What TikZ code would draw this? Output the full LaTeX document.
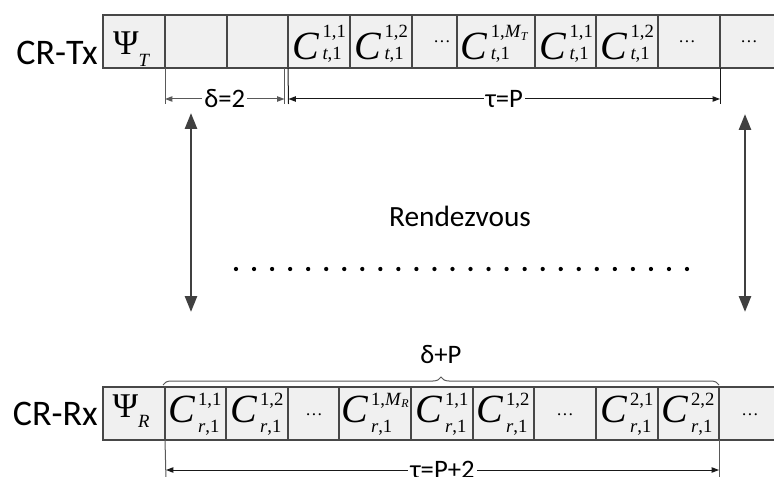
\documentclass[tikz,border=0pt]{standalone}
\usepackage{fontspec}
\setmainfont{Carlito}
\newfontfamily\tms{Liberation Serif}
\usetikzlibrary{arrows.meta,decorations.pathreplacing}
\newbox\supbx
\newbox\subbx
\newdimen\scrw
\newcommand{\bigC}{{\tms\fontsize{30}{30}\selectfont\itshape C}}
\newcommand{\scr}[1]{{\tms\fontsize{14}{14}\selectfont #1}}
% #1 sup, #2 sub, #3 sup raise, #4 sub raise, #5 gap
\newcommand{\Cgrp}[5]{\bigC\kern#5%
  \setbox\supbx=\hbox{\scr{#1}}\setbox\subbx=\hbox{\scr{#2}}%
  \ifdim\wd\supbx>\wd\subbx \scrw=\wd\supbx \else \scrw=\wd\subbx \fi
  \rlap{\raisebox{#3}{\copy\supbx}}\rlap{\raisebox{#4}{\copy\subbx}}\hspace*{\scrw}}
\newcommand{\CgT}[2]{\Cgrp{#1}{\itshape #2\upshape ,1}{16.5pt}{0pt}{2.8pt}}
\newcommand{\CgB}[2]{\Cgrp{#1}{\itshape #2\upshape ,1}{12.75pt}{-7.5pt}{2.2pt}}
\newcommand{\MT}[1]{1,\itshape M\kern0.5pt\raisebox{-2pt}{\fontsize{9}{9}\selectfont #1}}
\newcommand{\Psig}[2]{{\tms\fontsize{26}{26}\selectfont Ψ}\raisebox{#2}{\tms\fontsize{14}{14}\selectfont\itshape #1}}
\newcommand{\ellip}{{\tms\fontsize{13}{13}\selectfont …}}
\begin{document}
\begin{tikzpicture}[x=0.75pt,y=-0.75pt,
  cellst/.style={draw=black!72, fill=black!6, line width=0.8pt, inner sep=0pt, outer sep=0pt},
  txt/.style={inner sep=0pt, anchor=base},
  lbl/.style={fill=white, inner sep=1.5pt, font=\fontsize{20}{20}\selectfont},
  extg/.style={draw=black!65, line width=0.75pt},
  extk/.style={draw=black!90, line width=0.75pt},
  dimg/.style={draw=black!65, line width=0.75pt, {Triangle[width=4pt,length=5.5pt]}-{Triangle[width=4pt,length=5.5pt]}},
  dimk/.style={draw=black!90, line width=0.75pt, {Triangle[width=4pt,length=5.5pt]}-{Triangle[width=4pt,length=5.5pt]}},
  varr/.style={draw=black!75, line width=2pt, {Triangle[width=9pt,length=12pt]}-{Triangle[width=9pt,length=12pt]}},
  bracest/.style={draw=black!65, line width=0.75pt, decorate, decoration={brace, amplitude=6pt}},
  rowlbl/.style={inner sep=0pt, anchor=base east, font=\fontsize{27}{27}\selectfont},
]
\useasboundingbox (0,0) rectangle (774,477);
\clip (0,0) rectangle (774,477);
\newcommand{\cellbox}[5]{\node[cellst, minimum width={(#3-#2)*0.75pt}, minimum height={(#5-#4)*0.75pt}] (#1) at ({(#2+#3)/2},{(#4+#5)/2}) {};}
% top row
\cellbox{t1}{103}{165}{15}{68}
\cellbox{t2}{165}{227}{15}{68}
\cellbox{t3}{227}{288}{15}{68}
\cellbox{t4}{288}{350}{15}{68}
\cellbox{t5}{350}{412}{15}{68}
\cellbox{t6}{412}{457}{15}{68}
\cellbox{t7}{457}{535}{15}{68}
\cellbox{t8}{535}{596}{15}{68}
\cellbox{t9}{596}{658}{15}{68}
\cellbox{t10}{658}{720}{15}{68}
\cellbox{t11}{720}{778}{15}{68}
% bottom row
\cellbox{b1}{103}{165}{387}{440}
\cellbox{b2}{165}{226}{387}{440}
\cellbox{b3}{226}{288}{387}{440}
\cellbox{b4}{288}{339}{387}{440}
\cellbox{b5}{339}{411}{387}{440}
\cellbox{b6}{411}{473}{387}{440}
\cellbox{b7}{473}{534}{387}{440}
\cellbox{b8}{534}{596}{387}{440}
\cellbox{b9}{596}{658}{387}{440}
\cellbox{b10}{658}{719}{387}{440}
\cellbox{b11}{719}{778}{387}{440}
% row labels
\node[rowlbl] (tx) at (98,65) {CR-Tx};
\node[rowlbl] (rx) at (98,425) {CR-Rx};
% top contents
\node[txt] (t1c) at (131,55) {\Psig{T}{-9pt}};
\node[txt] (t4c) at (319,60) {\CgT{1,1}{t}};
\node[txt] (t5c) at (381,60) {\CgT{1,2}{t}};
\node[txt] (t6c) at (442,43) {\ellip};
\node[txt] (t7c) at (494,60) {\CgT{\MT{T}}{t}};
\node[txt] (t8c) at (566,60) {\CgT{1,1}{t}};
\node[txt] (t9c) at (627,60) {\CgT{1,2}{t}};
\node[txt] (t10c) at (687,43) {\ellip};
\node[txt] (t11c) at (749,43) {\ellip};
% bottom contents
\node[txt] (b1c) at (131,417) {\Psig{R}{-8pt}};
\node[txt] (b2c) at (195,422) {\CgB{1,1}{r}};
\node[txt] (b3c) at (257,422) {\CgB{1,2}{r}};
\node[txt] (b4c) at (314,415) {\ellip};
\node[txt] (b5c) at (375,422) {\CgB{\MT{R}}{r}};
\node[txt] (b6c) at (442,422) {\CgB{1,1}{r}};
\node[txt] (b7c) at (503,422) {\CgB{1,2}{r}};
\node[txt] (b8c) at (565,415) {\ellip};
\node[txt] (b9c) at (627,422) {\CgB{2,1}{r}};
\node[txt] (b10c) at (688,422) {\CgB{2,2}{r}};
\node[txt] (b11c) at (750,415) {\ellip};
% top dimension lines
\coordinate (e1) at (165,104);
\coordinate (e2t) at (284.5,68);
\coordinate (e2) at (284.5,104);
\coordinate (e3) at (288.5,104);
\coordinate (e4) at (720,104);
\draw[extg] (t2.south west) -- (e1);
\draw[extg] (e2t) -- (e2);
\draw[extk] (t4.south west) -- (e3);
\draw[extk] (t10.south east) -- (e4);
\coordinate (dA) at (165,99);
\coordinate (dB) at (284.5,99);
\coordinate (dC) at (288.5,99);
\coordinate (dD) at (720,99);
\draw[dimg] (dA) -- node[lbl] (dlt) {δ=2} (dB);
\draw[dimk] (dC) -- node[lbl, pos=0.5] (tau) {τ=P} (dD);
% vertical arrows
\coordinate (lu) at (191,113);
\coordinate (ld) at (191,312);
\coordinate (ru) at (745,114);
\coordinate (rd) at (745,312);
\draw[varr] (lu) -- (ld);
\draw[varr] (ru) -- (rd);
% rendezvous
\node[txt, font=\fontsize{22}{22}\selectfont] (rdv) at (460,227) {Rendezvous};
\foreach \i in {0,...,25} \fill[black] ({236+\i*18.04},269) circle (1.6pt);
% brace
\coordinate (br1) at (163,385);
\coordinate (br2) at (719,385);
\draw[bracest] (br1) -- (br2);
\node[font=\fontsize{20}{20}\selectfont, inner sep=0pt] (dp) at (441,355) {δ+P};
% bottom dimension
\coordinate (f1) at (166,480);
\coordinate (f2) at (719,480);
\draw[extg] (b2.south west) -- (f1);
\draw[extg] (b10.south east) -- (f2);
\coordinate (gA) at (166,470);
\coordinate (gB) at (719,470);
\draw[dimk] (gA) -- node[lbl] (tau2) {τ=P+2} (gB);
\end{tikzpicture}
\end{document}
